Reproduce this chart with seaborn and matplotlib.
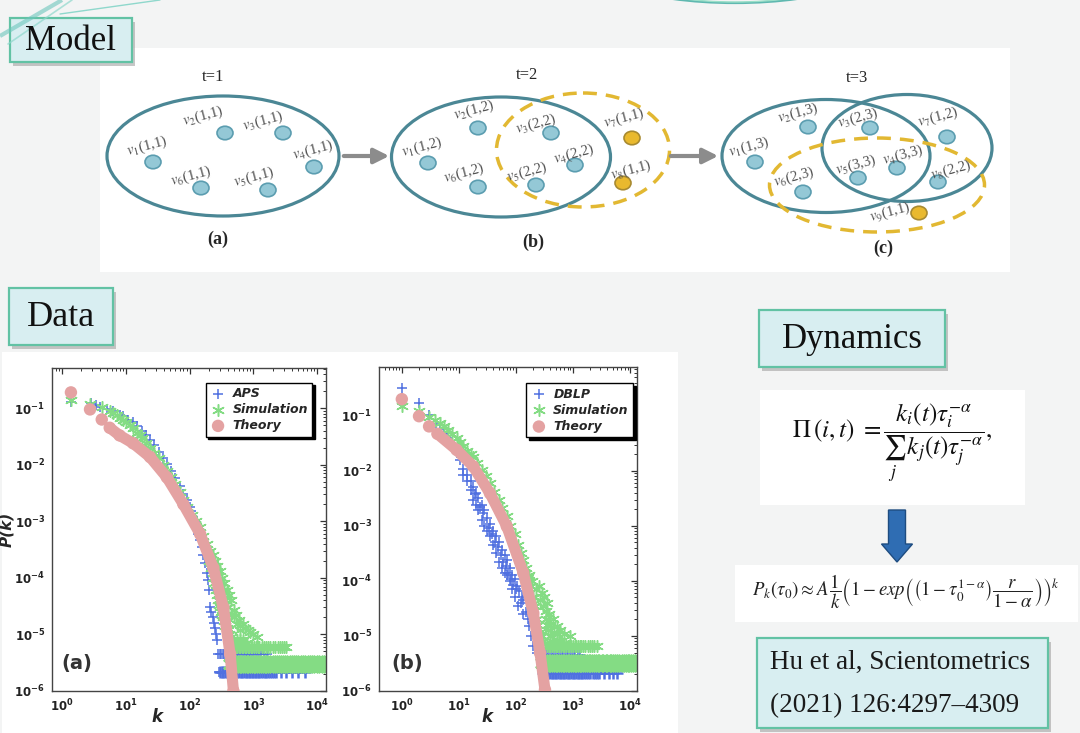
import numpy as np
import matplotlib
matplotlib.use("Agg")
import matplotlib.pyplot as plt
import seaborn as sns
from matplotlib.patches import Ellipse, Rectangle, FancyArrow
from matplotlib.ticker import LogLocator, FuncFormatter, NullFormatter

# ------------------------------------------------------------------
# Data
# ------------------------------------------------------------------
# panel (a) : APS
aps_k = [1.4, 2.8, 3.4, 4, 5, 6.4, 8, 9, 11, 13, 15, 18, 21, 24, 28, 33, 38,
         44, 52, 60, 70, 80, 90, 100, 107, 115, 122, 130, 138, 146, 155, 165,
         175, 186, 193, 200, 209, 220, 230, 240, 251, 260, 270, 284, 290]
aps_p = [0.13, 0.124, 0.115, 0.105, 0.097, 0.09, 0.077, 0.072, 0.063, 0.057,
         0.049, 0.04, 0.033, 0.027, 0.022, 0.017, 0.013, 0.0105, 0.0078,
         0.0058, 0.0042, 0.0031, 0.0024, 0.0018, 0.0015, 0.00118, 0.001,
         0.0008, 0.0006, 0.00046, 0.00035, 0.00025, 0.00018, 0.00012, 9e-5,
         6e-5, 3e-5, 2.5e-5, 2e-5, 1.6e-5, 1.3e-5, 1e-5, 8e-6, 4.5e-6, 2.2e-6]
aps_tail_hi_k = [300, 315, 330, 350, 370, 390, 410, 435, 460, 490, 520, 550,
                 580, 615, 650, 690, 720, 760, 800, 850, 900, 950, 1000, 1070,
                 1150, 1220, 1300, 1450, 1630]
aps_tail_hi_p = 4.5e-6
aps_tail_lo_k = [300, 320, 340, 365, 390, 415, 440, 470, 500, 530, 560, 595,
                 630, 670, 710, 755, 800, 850, 900, 950, 1000, 1050, 1100, 1170,
                 1250, 1320, 1400, 1500, 1600, 1700, 1800, 1950, 2100, 2300,
                 2700, 3300, 4100, 5000, 6500]
aps_tail_lo_p = 2.2e-6

sima_k = [1.38, 2.75, 4.2, 5.6, 6.4, 7.2, 8.2, 9.2, 10, 11.5, 13, 15, 16.5, 18,
          21, 24, 28, 33, 38, 44, 51, 60, 70, 80, 92, 110, 125, 146, 165, 190,
          210, 230, 250, 269, 295, 320, 350, 380, 410, 440, 490, 540, 600, 680,
          750, 820, 890, 1000, 1130]
sima_p = [0.138, 0.12, 0.105, 0.09, 0.082, 0.075, 0.068, 0.062, 0.058, 0.05,
          0.044, 0.037, 0.033, 0.030, 0.024, 0.020, 0.016, 0.013, 0.010,
          0.0079, 0.006, 0.0046, 0.0033, 0.0024, 0.0018, 0.0013, 0.001, 0.0008,
          0.00055, 0.0004, 0.0003, 0.00025, 0.0002, 0.00016, 0.00013, 0.0001,
          8e-5, 6e-5, 5e-5, 4e-5, 2.7e-5, 2.2e-5, 1.8e-5, 1.5e-5, 1.3e-5,
          1.2e-5, 1.1e-5, 1e-5, 9e-6]
sima_spread_k = [200, 215, 230, 245, 260, 269, 280, 290, 300, 310, 320, 335,
                 350, 365, 380, 400, 420, 440, 460, 480, 500, 520, 550, 580,
                 620, 650, 700, 760, 800, 260, 290, 330, 360, 400, 450, 500,
                 550, 620, 230, 250, 280, 310, 340]
sima_spread_p = [2e-4, 1.5e-4, 1e-4, 8e-5, 6e-5, 5e-5, 4e-5, 3.3e-5, 3e-5,
                 2.5e-5, 2.2e-5, 2e-5, 1.7e-5, 1.4e-5, 1.3e-5, 1.2e-5, 1e-5,
                 9e-6, 8e-6, 7.5e-6, 7e-6, 7e-6, 8e-6, 7e-6, 8e-6, 7e-6, 8e-6,
                 7e-6, 7e-6, 1.3e-4, 8e-5, 5e-5, 4e-5, 3e-5, 2.2e-5, 2e-5,
                 1.5e-5, 1.2e-5, 1.8e-4, 1.6e-4, 1.1e-4, 7e-5, 6e-5]
sima_tail_hi_k = [500, 530, 560, 590, 620, 660, 700, 740, 780, 820, 870, 920,
                  970, 1030, 1100, 1170, 1250, 1350, 1450, 1570, 1700, 1850,
                  2000, 2200, 2400, 2600, 2800, 3050, 3300]
sima_tail_hi_p = 6e-6
sima_tail_lo_k = [440, 470, 500, 535, 570, 610, 650, 695, 740, 790, 840, 895,
                  950, 1010, 1080, 1150, 1230, 1310, 1400, 1500, 1600, 1720,
                  1850, 2000, 2150, 2320, 2500, 2700, 2900, 3150, 3400, 3700,
                  4000, 4350, 4700, 5100, 5500, 6000, 6500, 7100, 7700, 8400,
                  9100, 9900, 10800, 11800, 13000]
sima_tail_lo_p = 3e-6

tha_k = [1.38, 2.75, 4.2, 5.6, 8, 13, 24, 44, 80, 146, 236, 339, 433, 488, 510]
tha_p = [0.19, 0.095, 0.063, 0.045, 0.033, 0.024, 0.0137, 0.006, 0.002, 0.0006,
         0.00015, 3e-5, 4.5e-6, 1e-6, 4e-7]

# panel (b) : DBLP
dblp_k = [1, 2, 3, 4, 4.7, 5.5, 6.2, 7, 8, 9.1, 10.5, 12, 14, 16, 17.8, 20, 22,
          25, 28, 31, 35, 40, 45, 50, 57, 63, 69, 78, 86, 95, 105, 115, 125,
          134, 150, 170, 185, 201, 230, 264]
dblp_p = [0.32, 0.17, 0.104, 0.07, 0.058, 0.048, 0.04, 0.033, 0.027, 0.021,
          0.016, 0.011, 0.0085, 0.0065, 0.0051, 0.004, 0.0032, 0.0024, 0.0019,
          0.0014, 0.0011, 0.0008, 0.00065, 0.0005, 0.00037, 0.0003, 0.00024,
          0.00017, 0.00013, 0.00011, 8e-5, 6.5e-5, 5.2e-5, 4.5e-5, 2.7e-5,
          1.5e-5, 1e-5, 6.5e-6, 5e-6, 4.5e-6]
dblp_spread_k = [12, 14, 16, 17.8, 20, 22, 25, 28, 31, 35, 40, 45, 50, 57, 63,
                 69, 78, 86, 95, 110, 134, 160, 18.9, 23.5, 26.5, 33, 37.5, 42.5,
                 47.5, 54, 60, 66, 73, 82, 90, 100, 120]
dblp_spread_p = [0.0085, 0.0065, 0.0045, 0.003, 0.0024, 0.0019, 0.0013, 0.001,
                 0.0008, 0.00065, 0.00045, 0.00032, 0.00022, 0.00017, 0.00014,
                 0.00013, 0.0001, 7e-5, 5e-5, 3.5e-5, 2.5e-5, 2e-5, 0.0038,
                 0.0022, 0.0017, 0.0009, 0.0007, 0.0005, 0.00042, 0.0003,
                 0.00022, 0.00019, 0.00014, 0.00011, 8.5e-5, 7e-5, 4e-5]
dblp_tail_hi_k = [280, 300, 320, 345, 370, 395, 420, 450, 480, 515, 550, 590,
                  630, 675, 720, 775, 830, 890, 950, 1020, 1100, 1200, 1330]
dblp_tail_hi_p = 4.5e-6
dblp_tail_lo_k = [300, 320, 340, 365, 390, 420, 450, 480, 510, 545, 580, 620,
                  660, 705, 750, 800, 860, 920, 980, 1050, 1120, 1200, 1280,
                  1370, 1460, 1580, 1700, 1850, 2000, 2200, 2400, 2650, 2900,
                  3500, 4300, 5000, 5800]
dblp_tail_lo_p = 2.1e-6

simb_k = [1, 2, 3, 3.8, 4.6, 5.5, 6.5, 7.7, 9.1, 10.5, 12, 14, 16, 17.8, 21, 25,
          30, 35, 42, 50, 58, 69, 80, 95, 110, 122, 134, 150, 170, 190, 220,
          264, 300, 340, 380, 440, 517, 600, 700, 890]
simb_p = [0.148, 0.12, 0.095, 0.083, 0.074, 0.064, 0.055, 0.047, 0.04, 0.034,
          0.028, 0.023, 0.02, 0.018, 0.014, 0.0105, 0.008, 0.006, 0.0042, 0.003,
          0.0021, 0.0015, 0.001, 0.0007, 0.00045, 0.00032, 0.00024, 0.00017,
          0.00013, 0.0001, 7e-5, 4.5e-5, 3.5e-5, 2.8e-5, 2.5e-5, 2e-5, 1.5e-5,
          1.3e-5, 1.1e-5, 9.8e-6]
simb_spread_k = [160, 180, 200, 215, 230, 245, 264, 280, 300, 320, 330, 350,
                 370, 400, 430, 450, 480, 520, 560, 600, 650, 700, 250, 280,
                 310, 350, 400, 460, 520]
simb_spread_p = [1.2e-4, 8e-5, 5e-5, 3.5e-5, 2e-5, 1.6e-5, 1.2e-5, 1e-5, 8e-6,
                 7.5e-6, 2e-5, 1.6e-5, 1.3e-5, 1e-5, 8e-6, 7e-6, 7e-6, 8e-6,
                 8e-6, 8e-6, 7e-6, 7e-6, 8e-5, 6e-5, 5e-5, 4e-5, 1.6e-5, 1.2e-5,
                 1.1e-5]
simb_tail_hi_k = [350, 375, 400, 430, 460, 495, 530, 570, 610, 655, 700, 750,
                  800, 860, 920, 990, 1060, 1140, 1220, 1310, 1400, 1520, 1650,
                  1800, 1950, 2120, 2300, 2600]
simb_tail_hi_p = 6.6e-6
simb_tail_lo_k = [300, 325, 350, 375, 400, 430, 460, 495, 530, 570, 610, 655,
                  700, 750, 800, 860, 920, 990, 1060, 1140, 1220, 1310, 1400,
                  1510, 1620, 1740, 1870, 2000, 2150, 2320, 2500, 2700, 2900,
                  3150, 3400, 3700, 4000, 4350, 4700, 5100, 5500, 6000, 6500,
                  7100, 7700, 8300, 9000, 9700, 10500, 11400, 12300]
simb_tail_lo_p = 3.2e-6

thb_k = [1, 2, 3, 4.2, 9.1, 17.8, 35, 69, 134, 201, 264, 322, 340]
thb_p = [0.2, 0.098, 0.064, 0.047, 0.024, 0.012, 0.0039, 0.00098, 0.00014,
         2.6e-5, 4.9e-6, 1.05e-6, 5e-7]

BLUE = "#5070e0"
GREEN = "#84dc84"
PINK = "#e4a2a2"
TEAL = "#4b8795"
GOLD = "#e2b832"

# ------------------------------------------------------------------
sns.set_style("white")
plt.rcParams["font.family"] = ["DejaVu Sans"]
plt.rcParams["mathtext.fontset"] = "dejavusans"

fig = plt.figure(figsize=(10.8, 7.33), dpi=100)
fig.patch.set_facecolor("#f3f4f4")

bg = fig.add_axes([0, 0, 1, 1])
bg.set_xlim(0, 1080)
bg.set_ylim(733, 0)
bg.axis("off")

SERIF = "Liberation Serif"

# decorative arcs at the top
bg.add_patch(Ellipse((735, -52), 330, 110, fill=False, ec="#5fb8b0", lw=1.6))
bg.add_patch(Ellipse((735, -50), 300, 104, fill=False, ec="#9adfc8", lw=1.0))
bg.plot([0, 62], [36, 0], color="#6cc6bc", lw=3, alpha=0.6, solid_capstyle="butt")
bg.plot([8, 72], [44, 0], color="#8fd8cc", lw=1.2, alpha=0.7)
bg.plot([60, 160], [14, 0], color="#8fd8cc", lw=1.0)

# white panels
bg.add_patch(Rectangle((100, 48), 910, 224, fc="white", ec="none"))
bg.add_patch(Rectangle((2, 352), 676, 381, fc="white", ec="none"))
bg.add_patch(Rectangle((760, 390), 265, 115, fc="white", ec="none"))
bg.add_patch(Rectangle((735, 565), 343, 57, fc="white", ec="none"))


def label_box(x0, y0, x1, y1, text, fs, lines=None):
    bg.add_patch(Rectangle((x0 + 3, y0 + 4), x1 - x0, y1 - y0, fc="#9a9a9a",
                           ec="none", alpha=0.55))
    bg.add_patch(Rectangle((x0, y0), x1 - x0, y1 - y0, fc="#d8eef1",
                           ec="#62c2a4", lw=1.6))
    if lines is None:
        bg.text((x0 + x1) / 2, (y0 + y1) / 2 + 1, text, family=SERIF,
                fontsize=fs, ha="center", va="center", color="#111")
    else:
        for (tx, ty, t) in lines:
            bg.text(tx, ty, t, family=SERIF, fontsize=fs, ha="left",
                    va="center", color="#1a1a1a")


label_box(10, 18, 132, 62, "Model", 25)
label_box(9, 288, 113, 345, "Data", 26)
label_box(759, 310, 945, 367, "Dynamics", 25)
label_box(757, 638, 1048, 728, None, 19.5,
          lines=[(770, 662, "Hu et al, Scientometrics"),
                 (770, 706, "(2021) 126:4297\u20134309")])

# ------------------------------------------------------------------
# model diagrams
# ------------------------------------------------------------------
def node(x, y, gold=False):
    fc, ec = ("#e9b92e", "#a88a30") if gold else ("#94c8d6", "#5b9db0")
    bg.add_patch(Ellipse((x, y), 16, 13.5, fc=fc, ec=ec, lw=1.2, zorder=4))


def nlabel(x, y, i, pair):
    bg.text(x, y, r"$v_{%d}$%s" % (i, pair), family=SERIF, math_fontfamily="stix",
            fontsize=10.5, rotation=15, color="#505050", ha="center",
            va="center", rotation_mode="anchor", zorder=5)


# (a)
bg.add_patch(Ellipse((223, 156), 232, 120, fill=False, ec=TEAL, lw=2.3))
nodes_a = [(153, 162, 1, "(1,1)", 147, 146), (225, 133, 2, "(1,1)", 203, 116),
           (283, 133, 3, "(1,1)", 263, 121), (314, 167, 4, "(1,1)", 313, 150),
           (268, 190, 5, "(1,1)", 254, 177), (201, 188, 6, "(1,1)", 191, 176)]
for (x, y, i, pr, lx, ly) in nodes_a:
    node(x, y)
    nlabel(lx, ly, i, pr)
bg.text(213, 77, "t=1", family=SERIF, fontsize=12, ha="center", va="center")
bg.text(218, 239, "(a)", family=SERIF, fontsize=13, fontweight="bold",
        ha="center", va="center")

# (b)
bg.add_patch(Ellipse((501, 157), 219, 120, fill=False, ec=TEAL, lw=2.3))
bg.add_patch(Ellipse((583, 150), 173, 114, fill=False, ec=GOLD, lw=2.5,
                     linestyle=(0, (4, 2.6))))
nodes_b = [(428, 163, 1, "(1,2)", 422, 147, False),
           (478, 128, 2, "(1,2)", 474, 110, False),
           (551, 133, 3, "(2,2)", 536, 124, False),
           (575, 165, 4, "(2,2)", 574, 154, False),
           (536, 185, 5, "(2,2)", 527, 172, False),
           (478, 187, 6, "(1,2)", 464, 173, False),
           (632, 138, 7, "(1,1)", 624, 118, True),
           (623, 183, 8, "(1,1)", 631, 170, True)]
for (x, y, i, pr, lx, ly, g) in nodes_b:
    node(x, y, g)
    nlabel(lx, ly, i, pr)
bg.text(527, 75, "t=2", family=SERIF, fontsize=12, ha="center", va="center")
bg.text(533, 242, "(b)", family=SERIF, fontsize=13, fontweight="bold",
        ha="center", va="center")

# (c)
bg.add_patch(Ellipse((826, 156), 208, 113, fill=False, ec=TEAL, lw=2.3))
bg.add_patch(Ellipse((907, 148), 170, 107, fill=False, ec=TEAL, lw=2.3))
bg.add_patch(Ellipse((877, 185), 215, 94, fill=False, ec=GOLD, lw=2.5,
                     linestyle=(0, (4, 2.6))))
nodes_c = [(755, 162, 1, "(1,3)", 749, 147, False),
           (808, 127, 2, "(1,3)", 798, 113, False),
           (870, 128, 3, "(2,3)", 858, 118, False),
           (897, 168, 4, "(3,3)", 903, 155, False),
           (858, 178, 5, "(3,3)", 856, 165, False),
           (803, 192, 6, "(2,3)", 794, 177, False),
           (947, 137, 7, "(1,2)", 938, 117, False),
           (938, 182, 8, "(2,2)", 951, 170, False),
           (919, 213, 9, "(1,1)", 890, 212, True)]
for (x, y, i, pr, lx, ly, g) in nodes_c:
    node(x, y, g)
    nlabel(lx, ly, i, pr)
bg.text(857, 78, "t=3", family=SERIF, fontsize=12, ha="center", va="center")
bg.text(883, 248, "(c)", family=SERIF, fontsize=13, fontweight="bold",
        ha="center", va="center")

# arrows between stages
for (xa, xb) in [(341, 392), (668, 721)]:
    bg.annotate("", xy=(xb, 156), xytext=(xa, 156),
                arrowprops=dict(arrowstyle="-|>,head_length=0.9,head_width=0.45",
                                color="#8c8c8c", lw=3))

# ------------------------------------------------------------------
# formulas
# ------------------------------------------------------------------
bg.text(892, 443,
        r"$\Pi\,(i,t)\ = \dfrac{k_i(t)\tau_i^{-\alpha}}{\sum_j\, k_j(t)\tau_j^{-\alpha}},$",
        math_fontfamily="stix", fontsize=18, ha="center", va="center",
        color="#111")
bg.add_patch(FancyArrow(897, 510, 0, 34, width=17, head_width=31,
                        head_length=18, length_includes_head=False,
                        fc="#2f6db3", ec="#1e4c80", lw=1))
bg.text(906, 592,
        r"$P_k(\tau_0) \approx A\,\dfrac{1}{k}\left(1 - exp\left(\left(1-\tau_0^{1-\alpha}\right)\dfrac{r}{1-\alpha}\right)\right)^k$",
        math_fontfamily="stix", fontsize=13.5, ha="center", va="center",
        color="#222")

# ------------------------------------------------------------------
# data panels
# ------------------------------------------------------------------
def decade_fmt(v, pos):
    return r"$\mathbf{10^{%d}}$" % int(round(np.log10(v)))


def setup_axis(ax, xlim, ylim):
    ax.set_xscale("log")
    ax.set_yscale("log")
    ax.set_xlim(*xlim)
    ax.set_ylim(*ylim)
    for a in (ax.xaxis, ax.yaxis):
        a.set_major_locator(LogLocator(base=10, numticks=20))
        a.set_minor_locator(LogLocator(base=10, subs=np.arange(2, 10), numticks=20))
        a.set_major_formatter(FuncFormatter(decade_fmt))
        a.set_minor_formatter(NullFormatter())
    ax.tick_params(which="both", direction="in", top=True, right=True,
                   color="#333", labelcolor="#222")
    ax.tick_params(which="major", length=4, width=0.9, labelsize=8.5, pad=5)
    ax.tick_params(which="minor", length=2.2, width=0.7)
    for s in ax.spines.values():
        s.set_color("#444")
        s.set_linewidth(1.0)
    ax.set_facecolor("white")


def draw_panel(ax, data_lbl, dk, dp, dsk, dsp, dth_k, dth_p, dtl_k, dtl_p,
               sk, sp, ssk, ssp, sth_k, sth_p, stl_k, stl_p, tk, tp):
    kw_b = dict(marker="+", s=60, color=BLUE, linewidth=1.1, ax=ax)
    kw_g = dict(marker=(6, 2, 0), s=70, color=GREEN, linewidth=1.1, ax=ax)
    sns.scatterplot(x=dk, y=dp, label=data_lbl, **kw_b)
    if dsk is not None:
        sns.scatterplot(x=dsk, y=dsp, **kw_b)
    sns.scatterplot(x=dth_k, y=[dth_p] * len(dth_k), **kw_b)
    sns.scatterplot(x=dtl_k, y=[dtl_p] * len(dtl_k), marker="+", s=70,
                    color=BLUE, linewidth=1.8, ax=ax)
    sns.scatterplot(x=sk, y=sp, label="Simulation", **kw_g)
    sns.scatterplot(x=ssk, y=ssp, **kw_g)
    sns.scatterplot(x=sth_k, y=[sth_p] * len(sth_k), **kw_g)
    sns.scatterplot(x=stl_k, y=[stl_p] * len(stl_k), marker=(6, 2, 0), s=120,
                    color=GREEN, linewidth=2.0, ax=ax)
    sns.lineplot(x=tk[3:], y=tp[3:], color=PINK, linewidth=8, ax=ax,
                 solid_capstyle="round", sort=False)
    sns.scatterplot(x=tk, y=tp, marker="o", s=80, color=PINK,
                    edgecolor="none", label="Theory", ax=ax, zorder=5)


ax_a = fig.add_axes([52 / 1080, 1 - 691 / 733, 274 / 1080, 323 / 733])
setup_axis(ax_a, (10 ** -0.157, 10 ** 4.14), (1e-6, 10 ** -0.29))
draw_panel(ax_a, "APS", aps_k, aps_p, None, None, aps_tail_hi_k, aps_tail_hi_p,
           aps_tail_lo_k, aps_tail_lo_p, sima_k, sima_p, sima_spread_k,
           sima_spread_p, sima_tail_hi_k, sima_tail_hi_p, sima_tail_lo_k,
           sima_tail_lo_p, tha_k, tha_p)

ax_b = fig.add_axes([379 / 1080, 1 - 691 / 733, 258 / 1080, 324 / 733])
setup_axis(ax_b, (10 ** -0.40, 10 ** 4.12), (1e-6, 10 ** -0.115))
draw_panel(ax_b, "DBLP", dblp_k, dblp_p, dblp_spread_k, dblp_spread_p,
           dblp_tail_hi_k, dblp_tail_hi_p, dblp_tail_lo_k, dblp_tail_lo_p,
           simb_k, simb_p, simb_spread_k, simb_spread_p, simb_tail_hi_k,
           simb_tail_hi_p, simb_tail_lo_k, simb_tail_lo_p, thb_k, thb_p)

for ax, anchor, tag, tpos, kx in [(ax_a, (0.95, 0.955), "(a)", (0.09, 0.085), 0.383),
                                  (ax_b, (0.985, 0.95), "(b)", (0.11, 0.085), 0.419)]:
    ax.legend(loc="upper right", bbox_to_anchor=anchor, borderaxespad=0,
              frameon=True, fancybox=False, edgecolor="black", framealpha=1,
              shadow={"color": "black", "alpha": 1},
              prop={"weight": "bold", "style": "italic", "size": 9},
              handletextpad=0.5, labelspacing=0.25, borderpad=0.35,
              handlelength=1.3)
    ax.legend_.get_frame().set_linewidth(1.0)
    ax.text(tpos[0], tpos[1], tag, transform=ax.transAxes, fontsize=14,
            fontweight="bold", color="#333", ha="center", va="center")
    ax.set_xlabel("k", fontsize=12, fontweight="bold", style="italic")
    ax.xaxis.label.set_va("center")
    ax.xaxis.set_label_coords(kx, -0.08)
    ax.set_ylabel("")

ax_a.set_ylabel("P(k)", fontsize=11, fontweight="bold", style="italic")
ax_a.yaxis.label.set_va("center")
ax_a.yaxis.set_label_coords(-0.165, 0.5)

fig.savefig("out.png", dpi=100, facecolor=fig.get_facecolor())
